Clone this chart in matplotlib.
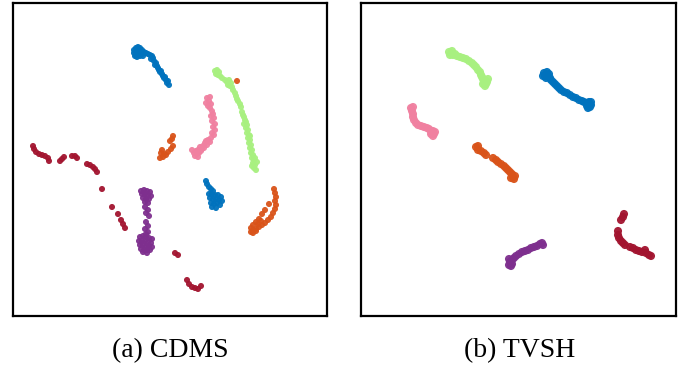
import matplotlib
matplotlib.use("Agg")
import matplotlib.pyplot as plt
import numpy as np

# ---- data: 2-D embedding points (image-pixel units) ----
titles = ["(a) CDMS", "(b) TVSH"]

a_blue_top = [(134,50),(136,48),(138,47),(140,48),(142,50),(134,53),(136,55),(138,53),(140,52),(142,54),
              (144,52),(146,53),(137,57),(140,56),(143,56),(148,54),(150,55),(152,56),(153,58),(151,59),
              (154,61),(156,63),(155,65),(157,66),(158,68),(159,70),(160,72),(161,71),(162,74),(163,76),
              (164,78),(165,77),(166,80),(168,81),(167,83),(169,85),(135,56),(139,50)]
a_green = [(215,71),(217,70),(219,72),(216,74),(218,75),(220,76),(222,78),(225,80),(227,82),(229,80),
           (231,83),(228,85),(230,86),(232,87),(233,90),(235,93),(236,96),(237,99),(238,101),(240,104),
           (241,107),(242,112),(243,115),(244,117),(245,120),(246,122),(247,125),(246,128),(248,130),(247,133),
           (249,135),(248,138),(250,140),(249,143),(251,145),(250,148),(252,150),(251,153),(253,155),(252,158),
           (254,160),(253,163),(255,165),(254,168),(256,170),(252,166),(257,162),(244,124),(250,136),(255,158)]
a_pink = [(207,98),(210,97),(209,101),(206,103),(211,104),(208,106),(210,108),(212,111),(213,114),(211,116),
          (214,118),(212,121),(215,124),(213,127),(215,130),(212,133),(214,135),(211,138),(208,140),(210,142),
          (205,143),(207,145),(203,146),(200,147),(202,149),(198,150),(196,151),(194,153),(197,154),(199,153),
          (195,156),(198,157),(201,151),(204,148),(206,141),(192,150)]
a_orange_mid = [(173,136),(172,139),(170,141),(173,146),(171,149),(168,152),(166,155),(163,157),(160,158),
                (162,150),(161,153),(164,154),(237,81)]
a_red = [(33,146),(34,149),(36,152),(39,154),(42,155),(45,156),(48,158),(49,161),(60,161),(62,159),
         (64,157),(72,156),(75,156),(77,158),(87,164),(90,165),(93,167),(95,169),(97,172),(102,189),
         (112,207),(118,214),(121,220),(123,224),(125,228),(175,253),(178,255),(187,280),(189,284),(192,287),
         (195,288),(198,289),(201,286)]
a_purple = [(141,191),(144,190),(147,191),(150,192),(142,194),(145,194),(148,195),(151,196),(143,198),(146,199),
            (149,199),(145,202),(148,203),(145,207),(148,210),(146,213),(149,216),(146,222),(148,226),(145,229),
            (148,232),(146,234),(140,237),(143,236),(146,237),(149,238),(152,239),(139,241),(142,241),(145,241),
            (148,242),(151,243),(140,245),(143,245),(146,246),(149,246),(152,247),(141,249),(144,250),(147,250),
            (150,250),(143,252),(147,253)]
a_blue_low = [(206,181),(207,184),(209,187),(211,189),(213,191),(209,194),(212,194),(215,195),(218,195),(221,197),
              (210,198),(213,199),(216,199),(219,200),(222,201),(211,203),(214,204),(217,203),(220,205),(212,207),
              (216,208)]
a_orange_low = [(274,189),(275,193),(276,197),(275,201),(276,205),(275,209),(273,213),(271,217),(268,220),(265,223),
                (262,225),(259,227),(256,229),(253,230),(251,232),(253,233),(256,231),(269,204),(265,210),(262,214),
                (259,219),(256,222),(253,225),(251,228),(258,224),(261,221)]

b_green = [(449,52),(452,51),(450,55),(453,55),(455,54),(457,56),(460,57),(463,58),(466,59),(469,61),
           (472,63),(474,65),(476,67),(478,70),(480,72),(481,75),(482,77),(483,79),(485,80),(484,82),
           (487,82),(486,84),(483,84),(488,79),(485,86)]
b_blue = [(544,73),(547,72),(545,76),(548,76),(550,78),(551,80),(553,82),(555,84),(557,86),(559,88),
          (561,90),(564,92),(567,93),(570,95),(573,97),(576,98),(579,100),(582,101),(584,102),(587,103),
          (589,104),(587,106),(590,107),(589,102),(543,76),(546,78),(549,74),(591,105),(588,108),(591,102)]
b_pink = [(411,108),(413,107),(412,111),(413,114),(413,117),(414,120),(416,123),(418,125),(421,126),(424,127),
          (427,128),(429,129),(431,131),(433,131),(434,134),(432,134),(431,134),(435,132),(433,136)]
b_orange = [(476,147),(478,146),(478,150),(481,151),(484,153),(486,155),(493,158),(496,160),(498,162),(501,164),
            (504,166),(506,168),(508,170),(510,172),(512,174),(513,177),(514,179),(511,178),(515,176)]
b_purple = [(510,262),(512,260),(512,264),(514,258),(516,256),(519,254),(522,252),(525,251),(528,250),(531,248),
            (534,247),(537,246),(540,244),(542,243),(543,245),(509,265),(511,266),(509,259)]
b_red = [(624,214),(623,217),(621,220),(618,231),(618,235),(619,238),(621,241),(623,243),(625,245),(630,247),
         (633,248),(636,250),(639,251),(642,252),(645,250),(646,253),(649,255),(651,256)]

# colours
C_BLUE, C_ORANGE, C_PURPLE, C_RED = "#0072BD", "#D95319", "#7E2F8E", "#A2142F"
C_GREEN, C_PINK = "#A8F080", "#F080A0"

panel_a = [(a_blue_top, C_BLUE), (a_green, C_GREEN), (a_pink, C_PINK), (a_orange_mid, C_ORANGE),
           (a_red, C_RED), (a_purple, C_PURPLE), (a_blue_low, C_BLUE), (a_orange_low, C_ORANGE)]
panel_b = [(b_green, C_GREEN), (b_blue, C_BLUE), (b_pink, C_PINK), (b_orange, C_ORANGE),
           (b_purple, C_PURPLE), (b_red, C_RED)]

W, H = 688, 366
fig = plt.figure(figsize=(W / 100, H / 100), dpi=100)

frames = [(13, 327, 3, 316), (361, 676, 3, 316)]
panels = [(panel_a, 19), (panel_b, 34)]
caption_x = [170, 520]

for (x0, x1, y0, y1), (groups, msize), title, cx in zip(frames, panels, titles, caption_x):
    ax = fig.add_axes([x0 / W, 1 - y1 / H, (x1 - x0) / W, (y1 - y0) / H])
    for pts, col in groups:
        arr = np.array(pts, dtype=float)
        ax.scatter(arr[:, 0], arr[:, 1], s=msize, color=col, edgecolors="none", alpha=0.95)
    ax.set_xlim(x0, x1)
    ax.set_ylim(y1, y0)
    ax.set_xticks([])
    ax.set_yticks([])
    for sp in ax.spines.values():
        sp.set_linewidth(1.6)
        sp.set_color("black")
    fig.text(cx / W, 1 - 351 / H, title, ha="center", va="center",
             family=["Liberation Serif", "DejaVu Serif"], fontsize=20)

fig.savefig("out.png", dpi=100)
